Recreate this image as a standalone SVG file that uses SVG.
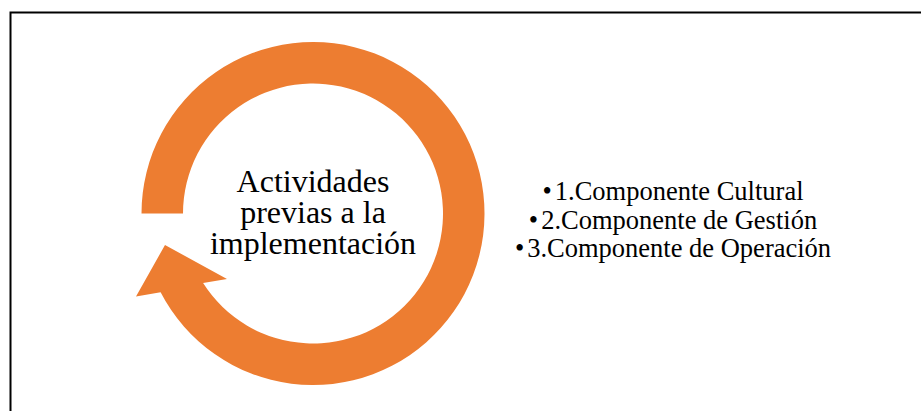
<svg xmlns="http://www.w3.org/2000/svg" width="921" height="411" viewBox="0 0 921 411">
<style>
.t{font-family:"Liberation Serif","Times New Roman",serif;fill:#000;text-anchor:middle}
.c{font-size:32px}
.l{font-size:26.5px}
</style>
<rect x="0" y="0" width="921" height="411" fill="#fff"/>
<rect x="10.5" y="12.5" width="930" height="420" fill="none" stroke="#000" stroke-width="2"/>
<g id="cycle">
<path d="M141.5 213.5 A171.5 171.5 0 1 1 160.6 292.2 L136 296.5 L165 245 L227 279 L203.1 283 A130 130 0 1 0 183 213.5 Z" fill="#ED7D31"/>
<text class="t c" x="313" y="192">Actividades</text>
<text class="t c" x="313" y="223">previas a la</text>
<text class="t c" x="313" y="254">implementación</text>
</g>
<g id="list">
<text class="t l" x="673" y="200">•<tspan dx="3">1.Componente Cultural</tspan></text>
<text class="t l" x="673" y="228.5">•<tspan dx="3">2.Componente de Gestión</tspan></text>
<text class="t l" x="673" y="257">•<tspan dx="3">3.Componente de Operación</tspan></text>
</g>
</svg>
